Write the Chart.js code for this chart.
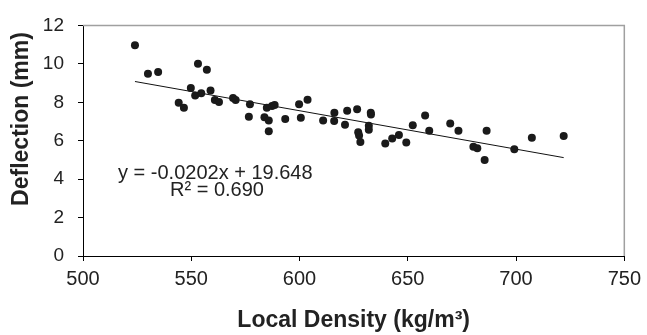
<!DOCTYPE html>
<html>
<head>
<meta charset="utf-8">
<script src="https://cdn.jsdelivr.net/npm/chart.js@4/dist/chart.umd.min.js"></script>
<style>
  html, body { margin: 0; padding: 0; background: #fff; }
  #wrap { width: 647px; height: 335px; position: relative; }
</style>
</head>
<body>
<div id="wrap"><canvas id="chart"></canvas></div>
<script>
// Local density (kg/m3) vs deflection (mm)
const density = [
  524, 530, 534.7, 553.1, 557.2, 549.8, 551.8, 554.6, 558.9, 544.2,
  546.6, 560.9, 562.8, 569.3, 570.5, 577.1, 576.6, 584.9, 587.3, 588.5,
  583.8, 585.8, 585.8, 593.4, 599.8, 603.7, 600.6, 610.9, 616.1, 616.0,
  621.0, 622.0, 626.6, 627.1, 627.5, 628.1, 632.9, 633.0, 632.0, 632.0,
  639.6, 642.8, 645.9, 649.3, 652.3, 658.0, 659.9, 669.6, 673.4, 686.4,
  680.3, 682.1, 685.5, 699.2, 707.3, 722.0
];
const deflection = [
  10.97, 9.49, 9.57, 10.0, 9.69, 8.74, 8.35, 8.47, 8.61, 7.97,
  7.71, 8.12, 8.02, 8.22, 8.12, 7.90, 7.25, 7.71, 7.80, 7.86,
  7.22, 7.05, 6.49, 7.13, 7.90, 8.13, 7.20, 7.05, 7.46, 7.02,
  6.83, 7.56, 7.64, 6.44, 6.27, 5.93, 7.46, 7.36, 6.78, 6.57,
  5.86, 6.12, 6.30, 5.90, 6.80, 7.31, 6.52, 6.90, 6.52, 6.52,
  5.69, 5.61, 5.00, 5.56, 6.15, 6.25
];

// linear trendline end points
const trendX = [524, 722];
const trendY = [9.08, 5.12];

const xTicks = [500, 550, 600, 650, 700, 750];
const yTicks = [0, 2, 4, 6, 8, 10, 12];

const equationText = 'y = -0.0202x + 19.648';
const r2Text = 'R\u00b2 = 0.690';
const xTitle = 'Local Density (kg/m\u00b3)';
const yTitle = 'Deflection (mm)';

const FONT = '"Liberation Sans", Arial, sans-serif';
const TEXT = '#222';

const points = density.map((d, i) => ({ x: d, y: deflection[i] }));
const trend = trendX.map((d, i) => ({ x: d, y: trendY[i] }));

// gray frame on top / right, y title and the equation text
const extras = {
  id: 'extras',
  afterDraw(c) {
    const { ctx, chartArea: a } = c;
    ctx.save();
    ctx.strokeStyle = '#a0a0a0';
    ctx.lineWidth = 1.5;
    ctx.beginPath();
    ctx.moveTo(a.left, a.top);
    ctx.lineTo(a.right, a.top);
    ctx.lineTo(a.right, a.bottom);
    ctx.stroke();

    ctx.fillStyle = TEXT;
    ctx.font = '20px ' + FONT;
    ctx.textAlign = 'left';
    ctx.textBaseline = 'alphabetic';
    ctx.fillText(equationText, 118, 179);
    ctx.fillText(r2Text, 170, 196);

    ctx.font = 'bold 23px ' + FONT;
    ctx.textAlign = 'center';
    ctx.textBaseline = 'middle';
    ctx.translate(22, 119);
    ctx.rotate(-Math.PI / 2);
    ctx.fillText(yTitle, 0, 0);
    ctx.restore();
  }
};

new Chart(document.getElementById('chart'), {
  type: 'scatter',
  data: {
    datasets: [
      {
        label: 'Deflection',
        data: points,
        backgroundColor: '#1a1a1a',
        borderWidth: 0,
        pointRadius: 4,
        pointHoverRadius: 4,
      },
      {
        type: 'line',
        label: 'Trend',
        data: trend,
        borderColor: '#111',
        borderWidth: 1,
        pointRadius: 0,
        fill: false,
      },
    ],
  },
  options: {
    responsive: true,
    maintainAspectRatio: false,
    animation: false,
    layout: {
      padding: { top: 20, right: 19, left: 0, bottom: 0 },
    },
    scales: {
      x: {
        type: 'linear',
        min: 500,
        max: 750,
        afterBuildTicks: (s) => { s.ticks = xTicks.map(v => ({ value: v })); },
        afterFit: (s) => { s.height = 79; },
        grid: {
          drawOnChartArea: false,
          tickLength: 5,
          color: '#000',
        },
        border: { color: '#000', width: 1 },
        ticks: {
          padding: 6,
          color: TEXT,
          font: { family: FONT, size: 20 },
        },
        title: {
          display: true,
          text: xTitle,
          color: TEXT,
          font: { family: FONT, size: 23, weight: 'bold' },
          padding: { top: 0, bottom: 1 },
        },
      },
      y: {
        min: 0,
        max: 12,
        afterBuildTicks: (s) => { s.ticks = yTicks.map(v => ({ value: v })); },
        afterFit: (s) => { s.width = 83; },
        grid: {
          drawOnChartArea: false,
          tickLength: 5,
          color: '#000',
        },
        border: { color: '#000', width: 1 },
        ticks: {
          padding: 14,
          color: TEXT,
          font: { family: FONT, size: 19 },
        },
      },
    },
    plugins: {
      legend: { display: false },
      tooltip: { enabled: false },
    },
  },
  plugins: [extras],
});
</script>
</body>
</html>
